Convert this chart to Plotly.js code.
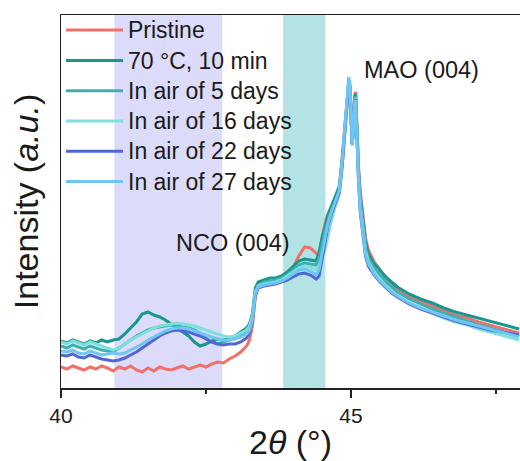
<!DOCTYPE html>
<html>
<head>
<meta charset="utf-8">
<script src="https://cdn.plot.ly/plotly-3.0.1.min.js"></script>
<style>html,body{margin:0;padding:0;background:#fff;}#chart{width:520px;height:461px;}</style>
</head>
<body>
<div id="chart"></div>
<script>
// 2-theta grid (degrees)
var twoTheta = [40.0,40.1,40.2,40.3,40.4,40.5,40.6,40.7,40.8,40.9,41.0,41.1,41.2,41.3,41.4,41.5,41.6,41.7,41.8,41.9,42.0,42.1,42.2,42.3,42.4,42.5,42.6,42.7,42.8,42.9,43.0,43.1,43.2,
  43.25,43.3,43.35,43.4,
  43.5,43.6,43.7,43.8,43.9,44.0,44.1,44.2,44.3,44.4,
  44.45,44.5,44.55,44.6,44.65,44.7,44.75,44.8,44.85,
  44.9,44.93,44.96,44.98,
  45.0,45.02,45.04,45.06,45.08,45.1,
  45.13,45.16,45.2,45.25,45.3,
  45.4,45.5,45.6,45.7,45.8,
  46.0,46.2,46.4,46.6,46.8,47.0,47.2,47.4,47.6,47.8,47.9];

var seriesNames = ["Pristine", "70 °C, 10 min", "In air of 5 days", "In air of 16 days", "In air of 22 days", "In air of 27 days"];

var pristine = [21,19,22,20,18,21,19,22,20,17,21,19,22,18,16,20,17,21,19,18,20,22,19,21,23,21,24,26,25,29,32,36,42,
  48,62,92,102,
  104,104,106,108,112,120,132,141,140,134,
  132,150,164,174,180,186,192,200,232,
  268,290,305,302,
  268,246,262,292,296,262,
  222,196,178,150,138,
  126,118,110,104,99,
  91,86,82,77,73,70,66,63,60,57,55];

var heated70 = [47,45,48,46,44,47,45,48,46,48,49,54,60,66,74,76,73,71,68,64,60,56,52,46,42,44,47,49,48,50,52,56,60,
  64,74,100,106,
  108,110,110,112,116,122,127,129,128,127,
  136,150,160,172,180,188,194,202,228,
  265,288,303,300,
  266,244,260,290,294,258,
  218,192,170,146,134,
  124,118,111,106,101,
  94,89,85,80,76,73,70,67,64,61,59];

var air5 = [42,40,43,41,39,42,40,38,37,36,40,44,48,52,55,58,60,61,62,63,62,61,60,58,55,50,46,44,46,48,50,53,56,
  60,70,96,103,
  106,107,108,110,113,118,123,125,124,123,
  130,144,156,166,176,182,188,198,226,
  264,287,304,301,
  265,243,258,288,292,256,
  214,186,164,140,130,
  120,113,106,101,96,
  89,84,79,75,71,67,63,60,57,54,52];

var air16 = [46,44,47,45,43,46,44,42,40,38,40,44,48,51,54,57,60,62,63,64,65,64,63,62,60,58,56,54,52,51,52,55,58,
  62,72,96,102,
  104,105,106,108,112,116,120,122,121,118,
  122,130,138,150,165,176,184,194,222,
  262,286,303,300,
  264,242,256,286,290,254,
  212,182,160,137,126,
  116,109,102,97,92,
  85,80,75,70,66,63,59,56,53,50,48];

var air22 = [33,32,34,31,30,33,31,29,28,27,28,30,33,36,40,44,48,52,55,57,58,57,56,54,52,49,46,44,43,44,44,46,50,
  55,66,92,100,
  102,103,104,106,108,111,114,115,113,109,
  112,128,146,162,172,180,186,196,224,
  264,288,306,303,
  266,244,256,286,289,250,
  206,176,154,132,122,
  113,106,100,95,91,
  84,79,75,71,67,64,61,58,56,54,53];

var air27 = [37,36,38,35,34,37,35,33,34,35,34,35,38,41,44,48,51,54,57,59,60,60,59,57,55,53,51,49,48,48,49,51,54,
  58,68,94,101,
  103,104,105,107,110,114,118,119,117,113,
  118,134,150,164,174,182,188,198,228,
  270,296,311,306,
  268,244,254,284,288,250,
  208,178,156,134,124,
  114,107,101,96,92,
  85,80,76,72,68,65,62,59,56,53,51];

var seriesColors = ["#f0706a", "#17978f", "#3fb0b2", "#7de0dc", "#5265d8", "#70c6f2"];

// highlighted 2-theta bands
var bandStart = [40.92, 43.83];
var bandEnd = [42.78, 44.56];
var bandColors = ["#dcdcfa", "#b3e3e5"];

// peak labels
var peakLabels = ["MAO (004)", "NCO (004)"];
var peakLabelX = [46.22, 42.97];
var peakLabelY = [318, 145];

var tickVals = [40, 45];
var tickText = ["40", "45"];

var allY = [pristine, heated70, air5, air16, air22, air27];
var traces = allY.map(function (ys, i) {
  return {
    x: twoTheta, y: ys, type: "scatter", mode: "lines",
    name: '<span style="font-size:23px">' + seriesNames[i] + '</span>',
    line: {color: seriesColors[i], width: 3, shape: "linear"}
  };
});

var shapes = bandStart.map(function (s, i) {
  return {type: "rect", xref: "x", yref: "paper", x0: s, x1: bandEnd[i], y0: 0, y1: 1,
          fillcolor: bandColors[i], line: {width: 0}, layer: "below"};
});

var annotations = peakLabels.map(function (t, i) {
  return {x: peakLabelX[i], y: peakLabelY[i], xref: "x", yref: "y", text: t, showarrow: false,
          font: {family: "Arial, Liberation Sans, sans-serif", size: 23.5, color: "#1a1a1a"}};
});

var layout = {
  width: 520, height: 461,
  margin: {l: 61, r: 0, t: 15, b: 73, pad: 0},
  paper_bgcolor: "#ffffff", plot_bgcolor: "rgba(0,0,0,0)",
  font: {family: "Arial, Liberation Sans, sans-serif", color: "#1a1a1a"},
  showlegend: true,
  legend: {x: 0, y: 1.0136, xanchor: "left", yanchor: "top", bgcolor: "rgba(0,0,0,0)",
           font: {size: 21, color: "#1a1a1a"}, itemwidth: 57, tracegroupgap: 0},
  xaxis: {
    range: [40, 47.914], showgrid: false, zeroline: false,
    showline: true, linecolor: "#222", linewidth: 1.5, mirror: true,
    ticks: "outside", ticklen: 8, tickwidth: 1.5, tickcolor: "#222",
    tickmode: "array", tickvals: tickVals, ticktext: tickText,
    tickfont: {size: 21, color: "#1a1a1a"},
    minor: {tickmode: "linear", tick0: 40, dtick: 2.5, ticks: "outside", ticklen: 4, tickwidth: 1.5, tickcolor: "#222"},
    title: {text: "2<i>θ</i> (°)", font: {size: 34, color: "#1a1a1a"}, standoff: 6}
  },
  yaxis: {
    range: [0, 373], showgrid: false, zeroline: false,
    showline: true, linecolor: "#222", linewidth: 1.5,
    ticks: "", showticklabels: false,
    title: {text: "Intensity (<i>a.u.</i>)", font: {size: 34, color: "#1a1a1a"}, standoff: 10}
  },
  shapes: shapes,
  annotations: annotations
};

Plotly.newPlot("chart", traces, layout, {displayModeBar: false, staticPlot: true});
</script>
</body>
</html>
